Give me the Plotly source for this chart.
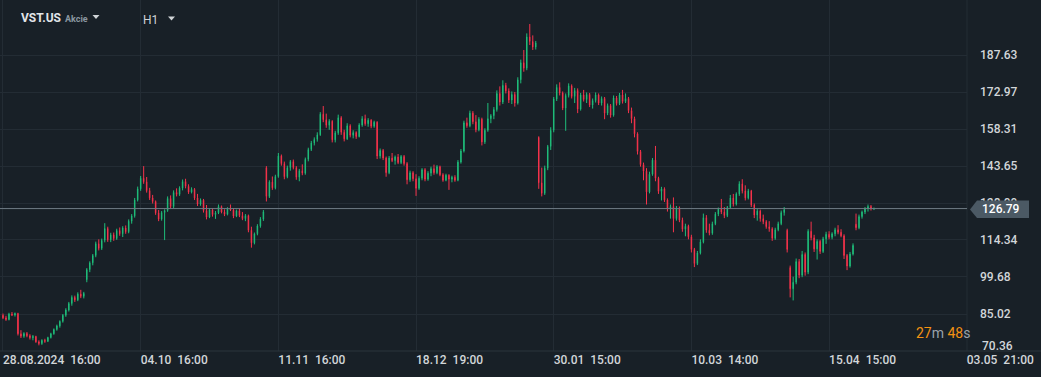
import plotly.graph_objects as go

# ---------------- data (VST.US, H1, compressed candle sequence) ----------------
opens = [
    84.5, 83.5, 82.8, 85.0, 84.6, 85.2, 77.2, 76.2, 77.3, 76.4,
    75.6, 76.1, 74.0, 73.3, 74.6, 74.2, 75.7, 77.2, 78.9, 80.3,
    82.1, 84.5, 86.6, 89.2, 91.6, 90.6, 92.9, 92.0, 98.6, 102.6,
    105.3, 108.2, 112.9, 111.0, 114.2, 118.9, 114.4, 116.4, 114.9, 118.1,
    116.8, 119.1, 117.6, 121.8, 123.9, 130.2, 134.6, 138.8, 137.4, 133.9,
    131.0, 129.6, 125.1, 122.6, 125.2, 126.0, 130.8, 127.6, 133.2, 132.4,
    134.9, 137.5, 135.6, 133.3, 134.4, 131.0, 128.6, 130.1, 126.0, 123.4,
    126.3, 124.4, 125.1, 127.6, 125.4, 124.5, 126.7, 126.2, 123.8, 125.9,
    124.0, 122.8, 124.0, 118.2, 113.2, 116.8, 119.9, 122.6, 143.0, 131.6,
    137.3, 135.0, 139.5, 147.6, 144.6, 139.4, 143.0, 145.4, 143.0, 139.2,
    141.8, 140.8, 146.3, 150.2, 152.8, 154.2, 156.0, 164.2, 162.0, 159.8,
    161.4, 154.0, 156.8, 162.8, 157.0, 154.4, 159.6, 155.8, 156.9, 155.3,
    159.9, 162.4, 160.4, 161.8, 159.4, 161.0, 147.6, 149.8, 146.8, 141.0,
    146.8, 145.8, 147.2, 145.0, 147.4, 144.6, 138.2, 141.0, 138.6, 134.8,
    138.8, 142.2, 138.4, 140.8, 142.6, 141.0, 143.4, 140.2, 138.0, 140.0,
    138.4, 139.2, 138.0, 145.2, 149.6, 160.8, 159.6, 164.6, 161.2, 158.0,
    162.2, 153.2, 157.8, 162.4, 163.6, 166.0, 172.4, 169.0, 175.6, 173.4,
    169.8, 172.0, 168.6, 177.8, 184.6, 182.4, 194.8, 193.0, 190.8, 155.0,
    137.0, 132.8, 142.8, 151.4, 157.8, 170.2, 174.8, 172.6, 166.6, 171.6,
    175.4, 171.2, 173.6, 166.2, 171.8, 170.0, 172.0, 167.8, 169.6, 171.8,
    168.6, 170.4, 164.6, 167.6, 163.8, 170.6, 168.4, 171.8, 169.2, 170.4,
    165.6, 162.4, 156.4, 149.4, 144.2, 141.6, 133.4, 140.4, 146.0, 138.8,
    133.6, 134.6, 130.2, 126.6, 127.6, 122.8, 127.0, 122.2, 118.6, 119.8,
    115.6, 110.6, 105.0, 109.2, 113.6, 123.2, 118.2, 117.0, 120.8, 124.6,
    126.6, 125.4, 124.0, 127.2, 131.0, 128.6, 132.6, 136.6, 133.8, 131.0,
    133.8, 128.2, 124.2, 125.8, 122.8, 121.6, 119.6, 118.8, 115.0, 118.4,
    120.8, 125.2, 118.2, 103.4, 95.0, 97.6, 105.8, 100.4, 108.6, 101.6,
    117.8, 115.2, 110.8, 113.8, 109.8, 114.8, 116.6, 115.4, 116.8, 118.4,
    117.4, 116.0, 108.2, 104.0, 108.8, 120.6, 119.2, 123.6, 125.4, 126.8,
    127.6, 126.6,
]
highs = [
    85.2, 84.3, 85.5, 85.8, 85.6, 85.5, 78.6, 77.8, 77.9, 77.0,
    76.7, 76.4, 74.6, 75.0, 75.2, 76.0, 77.6, 79.3, 80.8, 82.5,
    85.0, 87.3, 89.8, 92.4, 92.3, 93.6, 94.6, 93.8, 103.2, 105.9,
    108.8, 113.7, 114.6, 114.9, 121.0, 119.6, 117.2, 117.3, 118.8, 119.3,
    119.8, 120.1, 122.5, 124.6, 131.0, 135.5, 139.7, 143.6, 139.3, 135.0,
    132.2, 130.0, 126.2, 125.8, 126.5, 131.6, 132.0, 134.0, 134.8, 135.6,
    138.3, 138.6, 136.4, 135.2, 134.9, 132.6, 130.8, 130.6, 128.2, 126.9,
    127.0, 125.8, 128.4, 128.0, 126.5, 127.3, 128.4, 127.0, 126.4, 126.8,
    125.4, 124.6, 124.4, 119.6, 117.3, 120.6, 123.4, 126.2, 143.6, 138.0,
    139.5, 140.2, 148.8, 148.2, 145.4, 143.8, 146.0, 146.2, 143.6, 142.5,
    144.3, 147.0, 150.9, 153.6, 155.0, 157.0, 165.0, 167.4, 164.4, 162.2,
    161.8, 157.6, 164.0, 163.4, 158.0, 160.6, 160.2, 157.8, 157.4, 160.6,
    163.4, 164.0, 162.6, 162.2, 161.6, 161.4, 150.6, 150.4, 147.4, 147.6,
    148.8, 147.8, 148.4, 148.0, 148.0, 145.2, 141.8, 141.6, 140.4, 139.6,
    142.8, 142.8, 141.6, 143.4, 144.2, 144.0, 143.8, 140.8, 140.6, 140.4,
    139.8, 140.0, 146.0, 150.4, 161.6, 162.8, 165.6, 165.4, 163.8, 163.0,
    162.8, 158.6, 168.6, 164.2, 167.0, 173.6, 175.2, 177.6, 176.6, 174.4,
    173.2, 173.0, 178.8, 185.8, 189.6, 196.2, 199.9, 195.4, 193.2, 155.4,
    143.0, 143.8, 152.0, 159.0, 171.0, 176.0, 176.8, 173.2, 172.4, 176.4,
    176.0, 174.6, 174.4, 172.6, 173.8, 172.8, 172.6, 170.4, 172.8, 172.4,
    171.2, 171.0, 168.4, 168.2, 171.6, 171.4, 172.6, 173.8, 172.4, 171.0,
    166.8, 163.2, 157.0, 150.0, 145.0, 142.8, 141.4, 146.8, 151.6, 139.4,
    135.4, 135.2, 130.8, 128.4, 131.2, 127.8, 127.6, 123.2, 120.8, 120.4,
    116.4, 111.2, 110.0, 114.6, 124.8, 124.2, 120.8, 121.6, 125.4, 127.2,
    130.6, 127.4, 127.8, 132.2, 132.6, 133.2, 137.6, 138.4, 136.0, 134.6,
    134.2, 128.8, 126.6, 126.4, 124.4, 122.2, 121.8, 119.4, 119.2, 121.6,
    126.0, 127.4, 118.8, 104.2, 99.8, 107.0, 106.8, 110.0, 109.4, 118.6,
    121.6, 116.4, 114.6, 114.4, 115.6, 117.6, 117.8, 117.4, 119.2, 120.2,
    118.6, 116.6, 108.8, 109.6, 113.0, 124.8, 124.4, 126.0, 127.4, 128.4,
    128.2, 127.2,
]
lows = [
    83.0, 82.3, 82.5, 84.2, 84.0, 76.5, 75.5, 75.6, 75.8, 74.9,
    74.6, 73.6, 72.6, 72.8, 73.6, 73.9, 75.3, 76.8, 78.4, 79.6,
    81.6, 83.9, 86.0, 88.3, 89.8, 90.1, 91.3, 91.2, 97.6, 101.6,
    104.3, 107.5, 110.2, 110.4, 113.4, 113.6, 113.5, 114.0, 114.4, 116.0,
    115.5, 116.8, 117.0, 120.8, 123.2, 129.6, 133.8, 136.6, 133.1, 130.2,
    128.8, 124.3, 121.8, 122.0, 114.3, 125.5, 126.6, 127.0, 131.6, 131.8,
    134.0, 134.8, 132.6, 132.8, 130.2, 127.8, 127.9, 125.2, 122.5, 123.0,
    123.6, 122.7, 124.6, 124.9, 123.8, 124.1, 125.8, 123.0, 123.4, 123.4,
    122.2, 121.8, 117.4, 111.3, 112.6, 116.2, 119.2, 121.9, 129.6, 131.0,
    134.2, 134.4, 139.0, 143.8, 138.4, 138.8, 141.8, 142.3, 138.2, 137.6,
    140.0, 140.2, 145.5, 149.6, 151.8, 153.3, 155.6, 161.0, 158.8, 158.0,
    153.0, 153.0, 156.0, 156.0, 153.4, 154.0, 155.0, 154.6, 154.4, 155.0,
    159.2, 159.6, 159.2, 158.6, 158.8, 146.4, 146.6, 146.0, 139.4, 140.4,
    145.2, 144.2, 144.4, 144.4, 143.8, 136.4, 137.4, 137.6, 131.8, 134.2,
    138.0, 137.6, 137.8, 139.6, 140.2, 140.4, 139.6, 137.4, 137.6, 134.2,
    137.2, 137.4, 137.6, 144.6, 149.0, 158.8, 159.0, 160.2, 157.0, 157.4,
    151.8, 152.4, 157.2, 160.6, 162.2, 165.2, 167.6, 168.2, 172.4, 168.6,
    168.2, 167.2, 168.0, 176.4, 181.0, 181.6, 191.6, 189.6, 189.8, 134.6,
    131.6, 132.2, 142.0, 150.0, 157.0, 169.4, 171.6, 165.8, 157.6, 170.8,
    170.4, 168.6, 164.6, 165.6, 169.2, 168.6, 167.0, 166.4, 168.8, 167.8,
    167.6, 162.2, 163.8, 162.8, 163.2, 167.6, 167.8, 168.4, 168.6, 164.6,
    160.6, 155.0, 148.2, 143.4, 138.0, 128.4, 132.8, 139.8, 137.6, 132.6,
    130.0, 129.4, 125.6, 122.8, 117.4, 122.0, 121.4, 117.6, 115.8, 114.6,
    109.4, 103.6, 104.4, 108.6, 113.0, 117.2, 116.2, 116.4, 120.2, 123.8,
    124.6, 123.0, 123.4, 126.6, 127.6, 128.0, 131.8, 132.8, 130.0, 130.4,
    127.4, 123.0, 122.0, 121.6, 120.6, 118.8, 117.6, 114.0, 114.4, 117.8,
    120.2, 124.0, 109.4, 91.6, 90.4, 96.8, 99.2, 99.6, 100.2, 100.8,
    114.2, 109.6, 106.6, 108.8, 109.2, 112.8, 114.6, 114.6, 115.8, 116.6,
    115.4, 106.8, 102.4, 103.4, 108.2, 118.2, 118.6, 122.8, 124.6, 125.6,
    126.0, 126.2,
]
closes = [
    83.5, 82.8, 85.0, 84.6, 85.2, 77.2, 76.2, 77.3, 76.4, 75.6,
    76.1, 74.0, 73.3, 74.6, 74.2, 75.7, 77.2, 78.9, 80.3, 82.1,
    84.5, 86.6, 89.2, 91.6, 90.6, 92.9, 92.0, 93.2, 102.6, 105.3,
    108.2, 112.9, 111.0, 114.2, 118.9, 114.4, 116.4, 114.9, 118.1, 116.8,
    119.1, 117.6, 121.8, 123.9, 130.2, 134.6, 138.8, 137.4, 133.9, 131.0,
    129.6, 125.1, 122.6, 125.2, 126.0, 130.8, 127.6, 133.2, 132.4, 134.9,
    137.5, 135.6, 133.3, 134.4, 131.0, 128.6, 130.1, 126.0, 123.4, 126.3,
    124.4, 125.1, 127.6, 125.4, 124.5, 126.7, 126.2, 123.8, 125.9, 124.0,
    122.8, 124.0, 118.2, 113.2, 116.8, 119.9, 122.6, 125.5, 131.6, 137.3,
    135.0, 139.5, 147.6, 144.6, 139.4, 143.0, 145.4, 143.0, 139.2, 141.8,
    140.8, 146.3, 150.2, 152.8, 154.2, 156.0, 164.2, 162.0, 159.8, 161.4,
    154.0, 156.8, 162.8, 157.0, 154.4, 159.6, 155.8, 156.9, 155.3, 159.9,
    162.4, 160.4, 161.8, 159.4, 161.0, 147.6, 149.8, 146.8, 141.0, 146.8,
    145.8, 147.2, 145.0, 147.4, 144.6, 138.2, 141.0, 138.6, 134.8, 138.8,
    142.2, 138.4, 140.8, 142.6, 141.0, 143.4, 140.2, 138.0, 140.0, 138.4,
    139.2, 138.0, 145.2, 149.6, 160.8, 159.6, 164.6, 161.2, 158.0, 162.2,
    153.2, 157.8, 162.4, 163.6, 166.0, 172.4, 169.0, 175.6, 173.4, 169.8,
    172.0, 168.6, 177.8, 184.6, 182.4, 194.8, 193.0, 190.8, 192.4, 137.0,
    132.8, 142.8, 151.4, 157.8, 170.2, 174.8, 172.6, 166.6, 171.6, 175.4,
    171.2, 173.6, 166.2, 171.8, 170.0, 172.0, 167.8, 169.6, 171.8, 168.6,
    170.4, 164.6, 167.6, 163.8, 170.6, 168.4, 171.8, 169.2, 170.4, 165.6,
    162.4, 156.4, 149.4, 144.2, 141.6, 133.4, 140.4, 146.0, 138.8, 133.6,
    134.6, 130.2, 126.6, 127.6, 122.8, 127.0, 122.2, 118.6, 119.8, 115.6,
    110.6, 105.0, 109.2, 113.6, 123.2, 118.2, 117.0, 120.8, 124.6, 126.6,
    125.4, 124.0, 127.2, 131.0, 128.6, 132.6, 136.6, 133.8, 131.0, 133.8,
    128.2, 124.2, 125.8, 122.8, 121.6, 119.6, 118.8, 115.0, 118.4, 120.8,
    125.2, 126.4, 110.6, 95.0, 97.6, 105.8, 100.4, 108.6, 101.6, 117.8,
    115.2, 110.8, 113.8, 109.8, 114.8, 116.6, 115.4, 116.8, 118.4, 117.4,
    116.0, 108.2, 104.0, 108.8, 112.2, 119.2, 123.6, 125.4, 126.8, 127.6,
    126.6, 126.79,
]
candle_index = list(range(len(closes)))

x_tick_pos = [0, 46, 92, 138, 184, 230, 276, 322]
x_tick_labels = ["28.08.2024  16:00", "04.10  16:00", "11.11  16:00", "18.12  19:00",
                 "30.01  15:00", "10.03  14:00", "15.04  15:00", "03.05  21:00"]
y_ticks = [70.36, 85.02, 99.68, 114.34, 128.99, 143.65, 158.31, 172.97, 187.63]
last_price = 126.79
y_range = [70.36, 209.42]
x_range = [-1.0, 322.08]

# ---------------- styling ----------------
BG = "#182027"
GRID = "#232c34"
TXT = "#d2d6d9"
GREEN = "#1fbd7a"
RED = "#f5334b"
FONT = "Roboto"

W, H = 1041, 377
PW, PH = 967, 351  # plot area in pixels


def px(x):
    return x / PW


def py(y):
    return 1 - y / PH


fig = go.Figure()
fig.add_trace(go.Candlestick(
    x=candle_index, open=opens, high=highs, low=lows, close=closes,
    increasing=dict(line=dict(color=GREEN, width=1), fillcolor=GREEN),
    decreasing=dict(line=dict(color=RED, width=1), fillcolor=RED),
    whiskerwidth=0, hoverinfo="skip", showlegend=False,
))

nbsp = lambda s: s.replace(" ", "\u00a0")

fig.update_layout(
    width=W, height=H, autosize=False,
    margin=dict(l=0, r=W - PW, t=0, b=H - PH, pad=0),
    paper_bgcolor=BG, plot_bgcolor=BG,
    showlegend=False,
    boxgap=0.75,
    font=dict(family=FONT, color=TXT, size=12),
    xaxis=dict(
        range=x_range, rangeslider=dict(visible=False),
        tickmode="array", tickvals=x_tick_pos, ticktext=[nbsp(t) for t in x_tick_labels],
        ticklabelposition="outside right",
        showgrid=True, gridcolor=GRID, gridwidth=1, zeroline=False, showline=False,
        ticks="", tickfont=dict(family=FONT, size=12, color=TXT, weight=500),
        fixedrange=True,
    ),
    yaxis=dict(
        range=y_range, side="right",
        tickmode="array", tickvals=y_ticks[1:], ticktext=[f"{v:.2f}" for v in y_ticks[1:]],
        showgrid=True, gridcolor=GRID, gridwidth=1, zeroline=False, showline=False,
        ticks="", ticklabelstandoff=12,
        tickfont=dict(family=FONT, size=12, color=TXT, weight=500),
        fixedrange=True,
    ),
)

shapes = [
    # bottom axis line across the full width
    dict(type="line", xref="paper", yref="paper", x0=0, x1=W / PW, y0=0, y1=0,
         line=dict(color="#2a343d", width=1), layer="above"),
    # price-axis separator
    dict(type="line", xref="paper", yref="paper", x0=1, x1=1, y0=0, y1=1,
         line=dict(color=GRID, width=1), layer="below"),
    # last price line
    dict(type="line", xref="paper", yref="y", x0=0, x1=1, y0=last_price, y1=last_price,
         line=dict(color="#6e7a84", width=1), layer="above"),
    # last price tag
    dict(type="path", xref="paper", yref="paper",
         path=(f"M {px(970)},{py(209.5)} L {px(977)},{py(200.5)} L {px(1029)},{py(200.5)} "
               f"L {px(1029)},{py(218)} L {px(977)},{py(218)} Z"),
         fillcolor="#4b5964", line=dict(width=0), layer="above"),
    # header dropdown arrows
    dict(type="path", xref="paper", yref="paper",
         path=f"M {px(92.5)},{py(15)} L {px(99.5)},{py(15)} L {px(96)},{py(19)} Z",
         fillcolor="#cfd3d6", line=dict(width=0), layer="above"),
    dict(type="path", xref="paper", yref="paper",
         path=f"M {px(168)},{py(16.5)} L {px(175)},{py(16.5)} L {px(171.5)},{py(20.5)} Z",
         fillcolor="#cfd3d6", line=dict(width=0), layer="above"),
]
fig.update_layout(shapes=shapes)

annotations = [
    dict(text="VST.US", x=px(19), y=py(18), xref="paper", yref="paper",
         xanchor="left", yanchor="middle", showarrow=False,
         font=dict(family=FONT, size=12, color="#e2e5e8", weight=700)),
    dict(text="Akcie", x=px(63), y=py(19), xref="paper", yref="paper",
         xanchor="left", yanchor="middle", showarrow=False,
         font=dict(family=FONT, size=9, color="#8a97a1", weight=700)),
    dict(text="H1", x=px(141), y=py(20), xref="paper", yref="paper",
         xanchor="left", yanchor="middle", showarrow=False,
         font=dict(family=FONT, size=12, color="#cfd3d6")),
    dict(text=f"{last_price:.2f}", x=px(980), y=py(209.5), xref="paper", yref="paper",
         xanchor="left", yanchor="middle", showarrow=False,
         font=dict(family=FONT, size=12, color="#ffffff", weight=500)),
    dict(text=f"{y_ticks[0]:.2f}", x=px(980), y=py(346), xref="paper", yref="paper",
         xanchor="left", yanchor="middle", showarrow=False,
         font=dict(family=FONT, size=12, color=TXT, weight=500)),
    dict(text='<span style="color:#f39212">27</span>m <span style="color:#f39212">48</span>s',
         x=px(914), y=py(333), xref="paper", yref="paper",
         xanchor="left", yanchor="middle", showarrow=False,
         font=dict(family=FONT, size=14, color="#9aa3ab")),
]
fig.update_layout(annotations=annotations)

fig.write_html(
    "out.html",
    config={"displayModeBar": False, "staticPlot": True},
    post_script="document.body.style.margin='0';document.body.style.background='#182027';",
)
